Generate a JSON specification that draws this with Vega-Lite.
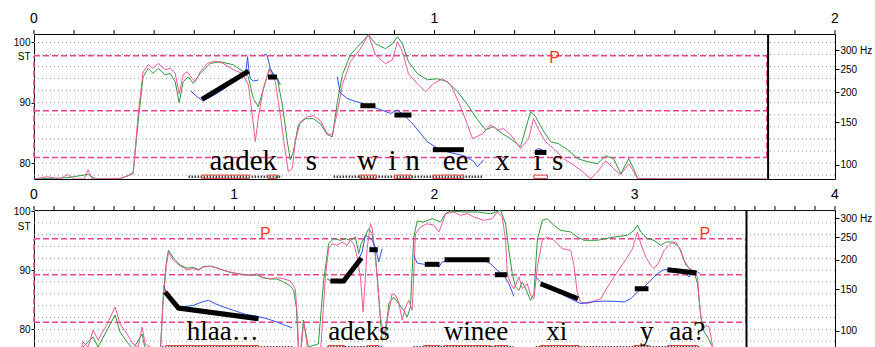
{
"$schema": "https://vega.github.io/schema/vega-lite/v6.json",
"padding": {"left": 12, "top": 11, "right": 0, "bottom": 0},
"spacing": 31,
"bounds": "flush",
"config": {
  "view": {"stroke": "#000", "strokeWidth": 1},
  "axis": {"labelFont": "Liberation Sans", "domain": false, "grid": false, "tickColor": "#000", "labelColor": "#000", "title": null}
},
"datasets": {
  "one": [{"k": 1}],
  "tickTop": [{"t":0},{"t":0.1},{"t":0.2},{"t":0.3},{"t":0.4},{"t":0.5},{"t":0.6},{"t":0.7},{"t":0.8},{"t":0.9},{"t":1},{"t":1.1},{"t":1.2},{"t":1.3},{"t":1.4},{"t":1.5},{"t":1.6},{"t":1.7},{"t":1.8},{"t":1.9},{"t":2}],
  "tickBot": [{"t":0},{"t":0.1},{"t":0.2},{"t":0.3},{"t":0.4},{"t":0.5},{"t":0.6},{"t":0.7},{"t":0.8},{"t":0.9},{"t":1},{"t":1.1},{"t":1.2},{"t":1.3},{"t":1.4},{"t":1.5},{"t":1.6},{"t":1.7},{"t":1.8},{"t":1.9},{"t":2},{"t":2.1},{"t":2.2},{"t":2.3},{"t":2.4},{"t":2.5},{"t":2.6},{"t":2.7},{"t":2.8},{"t":2.9},{"t":3},{"t":3.1},{"t":3.2},{"t":3.3},{"t":3.4},{"t":3.5},{"t":3.6},{"t":3.7},{"t":3.8},{"t":3.9},{"t":4}],
  "labTop": [{"t":0,"l":"0"},{"t":1,"l":"1"},{"t":2,"l":"2"}],
  "labBot": [{"t":0,"l":"0"},{"t":1,"l":"1"},{"t":2,"l":"2"},{"t":3,"l":"3"},{"t":4,"l":"4"}],
  "gridTop": [{"v":78},{"v":80},{"v":82},{"v":84},{"v":86},{"v":88},{"v":90},{"v":92},{"v":94},{"v":96},{"v":98},{"v":100}],
  "gridBot": [{"v":76},{"v":78},{"v":80},{"v":82},{"v":84},{"v":86},{"v":88},{"v":90},{"v":92},{"v":94},{"v":96},{"v":98},{"v":100}],
  "dashTop": [{"v":97.79},{"v":88.67},{"v":80.93}],
  "dashBot": [{"v":95.32},{"v":89.23},{"v":81.18}],
  "dashVTop": [{"t":0,"y1":80.93,"y2":97.79},{"t":1.83,"y1":80.93,"y2":97.79}],
  "dashVBot": [{"t":0,"y1":81.18,"y2":95.32},{"t":3.555,"y1":81.18,"y2":95.32}],
  "rectTop": [{"a":0.419,"b":0.538},{"a":0.584,"b":0.608},{"a":0.813,"b":0.855},{"a":0.9,"b":0.943},{"a":0.996,"b":1.073},{"a":1.248,"b":1.282}],
  "zigTop": [{"a":0.386,"b":0.619},{"a":0.748,"b":1.119}],
  "rectBot": [{"a":0.6585,"b":1.1215},{"a":1.47,"b":1.55},{"a":1.6635,"b":1.7215},{"a":1.9465,"b":2.0265},{"a":2.0465,"b":2.28},{"a":2.3,"b":2.3665},{"a":2.53,"b":2.7215},{"a":2.9965,"b":3.0715},{"a":3.1635,"b":3.3135}],
  "zigBot": [{"a":0.6385,"b":1.2965},{"a":1.4635,"b":1.7385},{"a":1.895,"b":2.395},{"a":2.505,"b":3.33}],
  "sylTop": [{"t":0.5225,"w":"aadek"},{"t":0.6925,"w":"s"},{"t":0.8325,"w":"w"},{"t":0.895,"w":"i"},{"t":0.945,"w":"n"},{"t":1.0525,"w":"ee"},{"t":1.17,"w":"x"},{"t":1.2575,"w":"i"},{"t":1.3075,"w":"s"}],
  "sylBot": [{"t":0.9425,"w":"hlaa…"},{"t":1.6225,"w":"adeks"},{"t":2.2075,"w":"winee"},{"t":2.61,"w":"xi"},{"t":3.06,"w":"y"},{"t":3.2625,"w":"aa?"}],
  "pTop": [{"t":1.3,"v":96.52}],
  "pBot": [{"t":1.155,"v":95.32},{"t":3.35,"v":95.32}],
  "pinkTop": [{"t":0,"st":77.35},{"t":0.033,"st":77.73},{"t":0.065,"st":77.35},{"t":0.083,"st":78.11},{"t":0.1,"st":77.35},{"t":0.125,"st":77.35},{"t":0.135,"st":78.89},{"t":0.145,"st":77.35},{"t":0.215,"st":77.45},{"t":0.235,"st":77.9},{"t":0.248,"st":78.56},{"t":0.26,"st":88.01},{"t":0.2725,"st":95.14},{"t":0.285,"st":96.3},{"t":0.2975,"st":95.69},{"t":0.31,"st":96.52},{"t":0.3275,"st":95.47},{"t":0.34,"st":95.69},{"t":0.3525,"st":94.86},{"t":0.3625,"st":91.49},{"t":0.3725,"st":94.64},{"t":0.3825,"st":95.14},{"t":0.395,"st":94.03},{"t":0.4025,"st":93.48},{"t":0.415,"st":95.14},{"t":0.4325,"st":96.52},{"t":0.4525,"st":96.92},{"t":0.4725,"st":96.52},{"t":0.4975,"st":95.47},{"t":0.52,"st":94.86},{"t":0.535,"st":92.99},{"t":0.545,"st":88.01},{"t":0.5525,"st":83.53},{"t":0.56,"st":87.4},{"t":0.5725,"st":92.37},{"t":0.5875,"st":95.47},{"t":0.6025,"st":93.48},{"t":0.615,"st":88.01},{"t":0.6275,"st":81.87},{"t":0.635,"st":78.56},{"t":0.645,"st":79.1},{"t":0.6525,"st":83.53},{"t":0.665,"st":86.85},{"t":0.6825,"st":87.68},{"t":0.6975,"st":87.84},{"t":0.715,"st":87.02},{"t":0.7325,"st":84.86},{"t":0.745,"st":84.69},{"t":0.7575,"st":88.51},{"t":0.77,"st":92.99},{"t":0.79,"st":96.8},{"t":0.815,"st":98.96},{"t":0.835,"st":101.28},{"t":0.8525,"st":97.96},{"t":0.8775,"st":96.47},{"t":0.895,"st":97.13},{"t":0.9075,"st":100.12},{"t":0.92,"st":98.46},{"t":0.935,"st":94.81},{"t":0.9575,"st":93.15},{"t":0.9775,"st":91.82},{"t":0.9975,"st":93.15},{"t":1.02,"st":93.98},{"t":1.04,"st":92.99},{"t":1.06,"st":90.17},{"t":1.0825,"st":86.35},{"t":1.095,"st":84.03},{"t":1.12,"st":84.86},{"t":1.14,"st":86.35},{"t":1.1575,"st":85.52},{"t":1.1725,"st":85.69},{"t":1.19,"st":84.69},{"t":1.215,"st":82.37},{"t":1.235,"st":84.03},{"t":1.2475,"st":87.35},{"t":1.26,"st":85.52},{"t":1.2775,"st":83.53},{"t":1.2975,"st":82.37},{"t":1.3225,"st":80.71},{"t":1.3475,"st":79.67},{"t":1.37,"st":78.56},{"t":1.39,"st":77.4},{"t":1.4075,"st":78.56},{"t":1.4275,"st":80.38},{"t":1.4475,"st":79.05},{"t":1.465,"st":78.06},{"t":1.485,"st":79.88},{"t":1.4975,"st":78.56},{"t":1.5075,"st":77.4},{"t":1.8275,"st":77.35}],
  "greenTop": [{"t":0,"st":77.35},{"t":0.083,"st":77.56},{"t":0.135,"st":78.11},{"t":0.155,"st":77.35},{"t":0.215,"st":77.4},{"t":0.2475,"st":78.23},{"t":0.26,"st":86.85},{"t":0.2725,"st":94.31},{"t":0.285,"st":95.69},{"t":0.2975,"st":94.86},{"t":0.31,"st":95.69},{"t":0.3275,"st":94.64},{"t":0.34,"st":94.86},{"t":0.3525,"st":93.48},{"t":0.3625,"st":90.0},{"t":0.3725,"st":93.48},{"t":0.385,"st":94.31},{"t":0.3975,"st":93.2},{"t":0.415,"st":94.86},{"t":0.44,"st":96.52},{"t":0.465,"st":96.8},{"t":0.4975,"st":96.3},{"t":0.5225,"st":95.14},{"t":0.535,"st":94.31},{"t":0.5475,"st":90.71},{"t":0.56,"st":89.34},{"t":0.5725,"st":92.16},{"t":0.5875,"st":95.69},{"t":0.6075,"st":94.03},{"t":0.62,"st":89.67},{"t":0.6325,"st":83.53},{"t":0.64,"st":80.55},{"t":0.6475,"st":81.87},{"t":0.66,"st":86.35},{"t":0.6775,"st":87.35},{"t":0.6975,"st":87.35},{"t":0.715,"st":86.52},{"t":0.7325,"st":84.69},{"t":0.745,"st":84.36},{"t":0.7575,"st":90.17},{"t":0.77,"st":94.64},{"t":0.79,"st":97.96},{"t":0.815,"st":99.78},{"t":0.835,"st":101.28},{"t":0.8525,"st":99.78},{"t":0.8775,"st":98.96},{"t":0.895,"st":99.78},{"t":0.9075,"st":100.95},{"t":0.92,"st":99.78},{"t":0.935,"st":96.8},{"t":0.9575,"st":94.81},{"t":0.9825,"st":93.81},{"t":1.0075,"st":93.98},{"t":1.0325,"st":93.48},{"t":1.0575,"st":91.82},{"t":1.0825,"st":89.67},{"t":1.1075,"st":87.18},{"t":1.1275,"st":85.52},{"t":1.1475,"st":86.02},{"t":1.17,"st":84.86},{"t":1.19,"st":84.03},{"t":1.215,"st":82.7},{"t":1.2275,"st":85.69},{"t":1.24,"st":88.51},{"t":1.2525,"st":87.68},{"t":1.27,"st":85.52},{"t":1.29,"st":83.53},{"t":1.31,"st":83.2},{"t":1.3325,"st":82.2},{"t":1.3575,"st":80.71},{"t":1.3825,"st":80.22},{"t":1.4075,"st":79.88},{"t":1.4275,"st":81.21},{"t":1.4475,"st":80.71},{"t":1.465,"st":78.23},{"t":1.485,"st":80.71},{"t":1.4975,"st":79.05},{"t":1.5075,"st":77.4},{"t":1.8275,"st":77.35}],
  "blueTop": [{"s":1,"t":0.3918,"st":91.94},{"s":1,"t":0.4068,"st":91.0},{"s":1,"t":0.4193,"st":90.45},{"s":1,"t":0.435,"st":90.71},{"s":1,"t":0.4568,"st":91.54},{"s":1,"t":0.4818,"st":92.65},{"s":1,"t":0.5068,"st":93.76},{"s":1,"t":0.5225,"st":94.64},{"s":1,"t":0.53,"st":95.69},{"s":1,"t":0.5333,"st":97.63},{"s":1,"t":0.5358,"st":95.69},{"s":1,"t":0.54,"st":94.03},{"s":1,"t":0.5475,"st":93.6},{"s":1,"t":0.56,"st":93.76},
    {"s":2,"t":0.575,"st":98.01},{"s":2,"t":0.5818,"st":97.91},{"s":2,"t":0.59,"st":95.69},{"s":2,"t":0.5975,"st":94.59},{"s":2,"t":0.6075,"st":94.03},{"s":2,"t":0.615,"st":92.94},
    {"s":3,"t":0.7568,"st":94.31},{"s":3,"t":0.765,"st":91.66},{"s":3,"t":0.7818,"st":90.71},{"s":3,"t":0.7975,"st":90.33},{"s":3,"t":0.815,"st":90.0},{"s":3,"t":0.8568,"st":89.05},{"s":3,"t":0.89,"st":88.23},{"s":3,"t":0.9068,"st":88.79},{"s":3,"t":0.9233,"st":87.96},{"s":3,"t":0.9483,"st":86.3},{"s":3,"t":0.9818,"st":83.53},{"s":3,"t":1.015,"st":82.16},{"s":3,"t":1.0483,"st":81.59},{"s":3,"t":1.0733,"st":81.21},{"s":3,"t":1.0858,"st":80.76},{"s":3,"t":1.0983,"st":80.22},{"s":3,"t":1.1068,"st":79.39},{"s":3,"t":1.115,"st":79.93},{"s":3,"t":1.1218,"st":80.5},
    {"s":4,"t":1.2483,"st":81.59},{"s":4,"t":1.2583,"st":82.42},{"s":4,"t":1.2693,"st":82.16},{"s":4,"t":1.2775,"st":81.59}],
  "blackTop": [{"s":1,"t":0.4193,"st":90.55},{"s":1,"t":0.5358,"st":95.26},{"s":2,"t":0.5843,"st":94.26},{"s":2,"t":0.6068,"st":94.26},{"s":3,"t":0.815,"st":89.5},{"s":3,"t":0.8525,"st":89.5},{"s":4,"t":0.9,"st":87.96},{"s":4,"t":0.9425,"st":87.96},{"s":5,"t":0.9958,"st":82.21},{"s":5,"t":1.0733,"st":82.21},{"s":6,"t":1.2508,"st":81.76},{"s":6,"t":1.2793,"st":81.76}],
  "pinkBot": [{"t":0,"st":75.7},{"t":0.13,"st":75.7},{"t":0.165,"st":77.01},{"t":0.19,"st":75.7},{"t":0.23,"st":75.7},{"t":0.245,"st":77.85},{"t":0.27,"st":77.01},{"t":0.295,"st":79.88},{"t":0.32,"st":78.19},{"t":0.365,"st":80.9},{"t":0.405,"st":83.77},{"t":0.43,"st":80.9},{"t":0.465,"st":79.21},{"t":0.495,"st":77.52},{"t":0.52,"st":77.01},{"t":0.54,"st":80.39},{"t":0.555,"st":77.52},{"t":0.595,"st":76.67},{"t":0.63,"st":75.7},{"t":0.645,"st":84.62},{"t":0.66,"st":90.53},{"t":0.6715,"st":93.07},{"t":0.6965,"st":91.67},{"t":0.73,"st":90.7},{"t":0.7635,"st":90.08},{"t":0.7965,"st":90.25},{"t":0.8215,"st":89.97},{"t":0.8465,"st":90.53},{"t":0.88,"st":90.65},{"t":0.9135,"st":90.41},{"t":0.9465,"st":89.97},{"t":0.98,"st":89.69},{"t":1.03,"st":89.3},{"t":1.08,"st":89.13},{"t":1.1135,"st":89.4},{"t":1.1465,"st":88.72},{"t":1.18,"st":88.55},{"t":1.2135,"st":88.72},{"t":1.2465,"st":88.55},{"t":1.28,"st":88.17},{"t":1.305,"st":86.81},{"t":1.3135,"st":82.92},{"t":1.3215,"st":77.01},{"t":1.33,"st":75.7},{"t":1.3475,"st":81.23},{"t":1.365,"st":77.01},{"t":1.38,"st":75.7},{"t":1.43,"st":75.7},{"t":1.455,"st":88.84},{"t":1.4715,"st":93.63},{"t":1.4885,"st":94.47},{"t":1.5135,"st":94.2},{"t":1.5385,"st":94.76},{"t":1.5635,"st":94.2},{"t":1.58,"st":95.05},{"t":1.5965,"st":94.47},{"t":1.6135,"st":92.22},{"t":1.63,"st":88.84},{"t":1.6435,"st":82.92},{"t":1.655,"st":88.84},{"t":1.6635,"st":93.63},{"t":1.68,"st":97.85},{"t":1.6885,"st":97.13},{"t":1.7,"st":93.91},{"t":1.7135,"st":88.84},{"t":1.73,"st":82.08},{"t":1.7465,"st":79.04},{"t":1.7665,"st":82.08},{"t":1.7885,"st":86.02},{"t":1.805,"st":85.75},{"t":1.8215,"st":84.62},{"t":1.8385,"st":81.57},{"t":1.855,"st":83.77},{"t":1.8715,"st":84.9},{"t":1.8885,"st":83.21},{"t":1.905,"st":96.16},{"t":1.93,"st":97.3},{"t":1.9635,"st":97.85},{"t":1.9965,"st":97.58},{"t":2.0215,"st":96.45},{"t":2.0385,"st":97.85},{"t":2.055,"st":99.54},{"t":2.0965,"st":99.83},{"t":2.13,"st":99.27},{"t":2.1635,"st":99.54},{"t":2.1965,"st":98.99},{"t":2.2465,"st":98.43},{"t":2.2885,"st":98.7},{"t":2.3135,"st":99.83},{"t":2.3385,"st":98.99},{"t":2.355,"st":95.05},{"t":2.3635,"st":89.4},{"t":2.38,"st":87.71},{"t":2.3965,"st":86.86},{"t":2.4215,"st":88.84},{"t":2.4385,"st":86.86},{"t":2.4635,"st":87.71},{"t":2.48,"st":85.75},{"t":2.4965,"st":85.17},{"t":2.5135,"st":90.53},{"t":2.5385,"st":95.05},{"t":2.5635,"st":95.6},{"t":2.5965,"st":95.05},{"t":2.6385,"st":93.63},{"t":2.68,"st":93.36},{"t":2.6965,"st":90.82},{"t":2.7135,"st":86.02},{"t":2.73,"st":84.62},{"t":2.7635,"st":84.33},{"t":2.805,"st":84.9},{"t":2.83,"st":85.12},{"t":2.8635,"st":87.15},{"t":2.8965,"st":88.84},{"t":2.93,"st":90.53},{"t":2.9635,"st":92.22},{"t":2.9885,"st":93.63},{"t":3.0135,"st":96.45},{"t":3.03,"st":94.47},{"t":3.055,"st":92.22},{"t":3.08,"st":90.82},{"t":3.0965,"st":90.25},{"t":3.1215,"st":91.38},{"t":3.1465,"st":93.36},{"t":3.18,"st":94.47},{"t":3.205,"st":94.76},{"t":3.23,"st":93.36},{"t":3.255,"st":90.82},{"t":3.2885,"st":89.97},{"t":3.3135,"st":88.84},{"t":3.3215,"st":84.9},{"t":3.3385,"st":79.83},{"t":3.355,"st":80.68},{"t":3.3715,"st":80.39},{"t":3.3965,"st":75.7},{"t":3.555,"st":75.7}],
  "greenBot": [{"t":0,"st":75.7},{"t":0.2,"st":75.7},{"t":0.245,"st":77.01},{"t":0.295,"st":78.7},{"t":0.32,"st":77.01},{"t":0.365,"st":79.88},{"t":0.405,"st":82.42},{"t":0.43,"st":79.54},{"t":0.465,"st":77.85},{"t":0.495,"st":76.67},{"t":0.54,"st":79.21},{"t":0.555,"st":76.67},{"t":0.63,"st":75.7},{"t":0.645,"st":85.46},{"t":0.66,"st":91.04},{"t":0.6715,"st":93.36},{"t":0.6965,"st":92.05},{"t":0.73,"st":90.87},{"t":0.7635,"st":90.36},{"t":0.7965,"st":90.45},{"t":0.8215,"st":90.11},{"t":0.8465,"st":90.62},{"t":0.88,"st":90.7},{"t":0.9135,"st":90.36},{"t":0.9465,"st":89.97},{"t":0.98,"st":89.6},{"t":1.03,"st":89.35},{"t":1.08,"st":89.18},{"t":1.1135,"st":89.18},{"t":1.1465,"st":88.67},{"t":1.18,"st":88.5},{"t":1.2135,"st":88.5},{"t":1.2465,"st":88.0},{"t":1.28,"st":87.32},{"t":1.2965,"st":86.59},{"t":1.31,"st":83.77},{"t":1.32,"st":77.01},{"t":1.33,"st":75.7},{"t":1.345,"st":81.57},{"t":1.37,"st":77.01},{"t":1.42,"st":77.52},{"t":1.4465,"st":88.28},{"t":1.4715,"st":94.47},{"t":1.4965,"st":95.32},{"t":1.53,"st":95.05},{"t":1.555,"st":95.32},{"t":1.58,"st":95.05},{"t":1.605,"st":95.6},{"t":1.6215,"st":92.78},{"t":1.6335,"st":94.47},{"t":1.655,"st":95.89},{"t":1.6715,"st":97.01},{"t":1.6885,"st":96.16},{"t":1.705,"st":92.78},{"t":1.7215,"st":85.46},{"t":1.7385,"st":78.14},{"t":1.755,"st":78.7},{"t":1.7715,"st":84.33},{"t":1.7965,"st":85.46},{"t":1.8215,"st":84.33},{"t":1.8465,"st":83.21},{"t":1.8635,"st":82.08},{"t":1.88,"st":83.77},{"t":1.8965,"st":95.6},{"t":1.9135,"st":98.31},{"t":1.9465,"st":98.14},{"t":1.9885,"st":98.7},{"t":2.03,"st":98.14},{"t":2.055,"st":99.54},{"t":2.08,"st":100.0},{"t":2.1465,"st":99.83},{"t":2.2135,"st":99.83},{"t":2.28,"st":99.54},{"t":2.305,"st":99.83},{"t":2.33,"st":100.12},{"t":2.355,"st":97.85},{"t":2.3715,"st":93.36},{"t":2.3885,"st":89.4},{"t":2.405,"st":87.15},{"t":2.4215,"st":86.59},{"t":2.4385,"st":88.0},{"t":2.455,"st":86.86},{"t":2.48,"st":84.9},{"t":2.4965,"st":86.02},{"t":2.5135,"st":95.05},{"t":2.5385,"st":98.43},{"t":2.5635,"st":98.7},{"t":2.5965,"st":97.58},{"t":2.63,"st":96.74},{"t":2.68,"st":96.45},{"t":2.7135,"st":95.6},{"t":2.7465,"st":95.05},{"t":2.8135,"st":95.05},{"t":2.8965,"st":95.6},{"t":2.9635,"st":95.89},{"t":2.9965,"st":96.74},{"t":3.0135,"st":97.58},{"t":3.03,"st":96.45},{"t":3.0635,"st":95.32},{"t":3.0965,"st":95.05},{"t":3.13,"st":94.2},{"t":3.155,"st":94.76},{"t":3.1885,"st":94.76},{"t":3.2215,"st":93.91},{"t":3.2465,"st":91.67},{"t":3.2715,"st":90.25},{"t":3.2965,"st":89.69},{"t":3.3135,"st":87.71},{"t":3.33,"st":82.08},{"t":3.3465,"st":79.54},{"t":3.3635,"st":78.7},{"t":3.3885,"st":77.01},{"t":3.4,"st":75.7},{"t":3.555,"st":75.7}],
  "blueBot": [{"s":1,"t":0.6465,"st":87.44},{"s":1,"t":0.6635,"st":86.02},{"s":1,"t":0.6965,"st":84.62},{"s":1,"t":0.73,"st":83.77},{"s":1,"t":0.7635,"st":83.89},{"s":1,"t":0.7965,"st":84.06},{"s":1,"t":0.8385,"st":84.62},{"s":1,"t":0.8715,"st":84.9},{"s":1,"t":0.905,"st":84.33},{"s":1,"t":0.9465,"st":83.77},{"s":1,"t":0.9965,"st":83.21},{"s":1,"t":1.055,"st":82.54},{"s":1,"t":1.1135,"st":82.2},{"s":1,"t":1.1635,"st":81.79},{"s":1,"t":1.2135,"st":81.23},{"s":1,"t":1.255,"st":80.68},{"s":1,"t":1.2885,"st":80.27},
    {"s":2,"t":1.4635,"st":88.55},{"s":2,"t":1.4885,"st":88.0},{"s":2,"t":1.53,"st":87.83},{"s":2,"t":1.5635,"st":88.84},{"s":2,"t":1.5965,"st":90.53},{"s":2,"t":1.6265,"st":92.22},{"s":2,"t":1.6385,"st":93.07},{"s":2,"t":1.655,"st":95.89},{"s":2,"t":1.6715,"st":95.6},{"s":2,"t":1.6885,"st":95.05},{"s":2,"t":1.705,"st":93.91},{"s":2,"t":1.7215,"st":91.38},{"s":2,"t":1.7385,"st":93.63},
    {"s":3,"t":1.8965,"st":92.51},{"s":3,"t":1.9135,"st":91.21},{"s":3,"t":1.9465,"st":90.99},{"s":3,"t":1.9965,"st":91.09},{"s":3,"t":2.0215,"st":90.53},{"s":3,"t":2.0385,"st":91.38},{"s":3,"t":2.08,"st":91.77},{"s":3,"t":2.1465,"st":91.77},{"s":3,"t":2.1965,"st":91.94},{"s":3,"t":2.2465,"st":91.67},{"s":3,"t":2.28,"st":91.09},{"s":3,"t":2.3135,"st":89.97},{"s":3,"t":2.3465,"st":89.13},{"s":3,"t":2.3715,"st":87.71},{"s":3,"t":2.3965,"st":85.58},
    {"s":4,"t":2.505,"st":88.84},{"s":4,"t":2.53,"st":88.0},{"s":4,"t":2.58,"st":86.86},{"s":4,"t":2.63,"st":86.02},{"s":4,"t":2.68,"st":85.17},{"s":4,"t":2.73,"st":84.33},{"s":4,"t":2.78,"st":84.62},{"s":4,"t":2.8465,"st":84.78},{"s":4,"t":2.8965,"st":84.73},{"s":4,"t":2.9465,"st":84.62},{"s":4,"t":2.98,"st":85.17},{"s":4,"t":3.0135,"st":86.31},{"s":4,"t":3.0465,"st":87.15},{"s":4,"t":3.08,"st":88.28},{"s":4,"t":3.1135,"st":89.4},{"s":4,"t":3.1385,"st":89.97},{"s":4,"t":3.18,"st":90.25},{"s":4,"t":3.23,"st":89.97},{"s":4,"t":3.255,"st":89.4},{"s":4,"t":3.2715,"st":88.84},{"s":4,"t":3.2885,"st":89.97},{"s":4,"t":3.3135,"st":89.69},{"s":4,"t":3.3265,"st":89.4}],
  "blackBot": [{"s":1,"t":0.655,"st":86.31},{"s":1,"t":0.7215,"st":83.6},{"s":1,"t":1.1215,"st":81.79},{"s":2,"t":1.48,"st":88.17},{"s":2,"t":1.5465,"st":88.17},{"s":2,"t":1.635,"st":92.05},{"s":3,"t":1.675,"st":93.46},{"s":3,"t":1.7165,"st":93.46},{"s":4,"t":1.9515,"st":90.99},{"s":4,"t":2.025,"st":90.99},{"s":5,"t":2.05,"st":91.77},{"s":5,"t":2.275,"st":91.77},{"s":6,"t":2.3015,"st":89.23},{"s":6,"t":2.3635,"st":89.23},{"s":7,"t":2.53,"st":87.71},{"s":7,"t":2.7165,"st":85.17},{"s":8,"t":3.0,"st":86.86},{"s":8,"t":3.0685,"st":86.86},{"s":9,"t":3.1635,"st":90.08},{"s":9,"t":3.3085,"st":89.52}]
},
"vconcat": [
{
  "width": 801, "height": 145,
  "resolve": {"axis": {"y": "independent"}},
  "layer": [
    {"data": {"name": "gridTop"}, "mark": {"type": "rule", "color": "#9a9a9a", "strokeDash": [1, 3], "strokeWidth": 1},
     "encoding": {"y": {"field": "v", "type": "quantitative", "scale": {"domain": [77.35, 101.4], "nice": false, "zero": false},
       "axis": {"orient": "left", "values": [80, 90, 97.6, 100], "labelExpr": "datum.value > 97 && datum.value < 98 ? 'ST' : datum.value", "tickSize": 3, "labelPadding": 1, "labelFontSize": 10, "labelOverlap": false, "tickOpacity": {"condition": {"test": "datum.value > 97 && datum.value < 98", "value": 0}, "value": 1}}}}},
    {"data": {"name": "dashTop"}, "mark": {"type": "rule", "color": "#f0428f", "strokeDash": [6, 3], "strokeWidth": 1.5},
     "encoding": {"x": {"datum": 0, "type": "quantitative", "scale": {"domain": [0, 2], "nice": false, "zero": false}, "axis": null},
       "x2": {"datum": 1.83},
       "y": {"field": "v", "type": "quantitative", "scale": {"domain": [77.35, 101.4], "nice": false, "zero": false},
       "axis": {"orient": "right", "values": [79.7263, 86.7459, 91.7263, 95.5894, 98.7459], "labelExpr": "format(pow(2, datum.value/12), '.0f') + (datum.value > 98 ? ' Hz' : '')", "tickSize": 4, "labelPadding": 1, "labelFontSize": 10, "labelOverlap": false}}}},
    {"data": {"name": "tickTop"}, "mark": {"type": "rule", "color": "#000", "strokeWidth": 1},
     "encoding": {"x": {"field": "t", "type": "quantitative", "scale": {"domain": [0, 2], "nice": false, "zero": false}, "axis": null},
       "y": {"datum": 101.4, "type": "quantitative", "scale": {"domain": [77.35, 101.4], "nice": false, "zero": false}, "axis": null}, "y2": {"datum": 102.06}}},
    {"data": {"name": "labTop"}, "mark": {"type": "text", "font": "Liberation Sans", "fontSize": 14, "align": "center", "baseline": "alphabetic", "color": "#000"},
     "encoding": {"x": {"field": "t", "type": "quantitative", "scale": {"domain": [0, 2], "nice": false, "zero": false}, "axis": null},
       "y": {"datum": 103.16, "type": "quantitative", "scale": {"domain": [77.35, 101.4], "nice": false, "zero": false}, "axis": null},
       "text": {"field": "l", "type": "nominal"}}},
    {"data": {"name": "dashVTop"}, "mark": {"type": "rule", "color": "#f0428f", "strokeDash": [6, 3], "strokeWidth": 1.5},
     "encoding": {"x": {"field": "t", "type": "quantitative", "scale": {"domain": [0, 2], "nice": false, "zero": false}, "axis": null},
       "y": {"field": "y1", "type": "quantitative", "scale": {"domain": [77.35, 101.4], "nice": false, "zero": false}, "axis": null}, "y2": {"field": "y2"}}},
    {"data": {"name": "zigTop"}, "mark": {"type": "rule", "color": "#444", "strokeDash": [1.5, 1.5], "strokeWidth": 2.5},
     "encoding": {"x": {"field": "a", "type": "quantitative", "scale": {"domain": [0, 2], "nice": false, "zero": false}, "axis": null}, "x2": {"field": "b"},
       "y": {"datum": 77.72, "type": "quantitative", "scale": {"domain": [77.35, 101.4], "nice": false, "zero": false}, "axis": null}}},
    {"data": {"name": "rectTop"}, "mark": {"type": "rect", "filled": false, "stroke": "#e03a3a", "strokeWidth": 1},
     "encoding": {"x": {"field": "a", "type": "quantitative", "scale": {"domain": [0, 2], "nice": false, "zero": false}, "axis": null}, "x2": {"field": "b"},
       "y": {"datum": 77.45, "type": "quantitative", "scale": {"domain": [77.35, 101.4], "nice": false, "zero": false}, "axis": null}, "y2": {"datum": 78.0}}},
    {"data": {"name": "greenTop"}, "mark": {"type": "line", "color": "#2e9a3c", "strokeWidth": 1, "clip": true},
     "encoding": {"x": {"field": "t", "type": "quantitative", "scale": {"domain": [0, 2], "nice": false, "zero": false}, "axis": null},
       "y": {"field": "st", "type": "quantitative", "scale": {"domain": [77.35, 101.4], "nice": false, "zero": false}, "axis": null}}},
    {"data": {"name": "pinkTop"}, "mark": {"type": "line", "color": "#f3589c", "strokeWidth": 1, "clip": true},
     "encoding": {"x": {"field": "t", "type": "quantitative", "scale": {"domain": [0, 2], "nice": false, "zero": false}, "axis": null},
       "y": {"field": "st", "type": "quantitative", "scale": {"domain": [77.35, 101.4], "nice": false, "zero": false}, "axis": null}}},
    {"data": {"name": "blueTop"}, "mark": {"type": "line", "color": "#3050f0", "strokeWidth": 1, "clip": true},
     "encoding": {"x": {"field": "t", "type": "quantitative", "scale": {"domain": [0, 2], "nice": false, "zero": false}, "axis": null},
       "y": {"field": "st", "type": "quantitative", "scale": {"domain": [77.35, 101.4], "nice": false, "zero": false}, "axis": null},
       "detail": {"field": "s", "type": "nominal"}}},
    {"data": {"name": "blackTop"}, "mark": {"type": "line", "color": "#000", "strokeWidth": 5, "strokeCap": "butt", "clip": true},
     "encoding": {"x": {"field": "t", "type": "quantitative", "scale": {"domain": [0, 2], "nice": false, "zero": false}, "axis": null},
       "y": {"field": "st", "type": "quantitative", "scale": {"domain": [77.35, 101.4], "nice": false, "zero": false}, "axis": null},
       "detail": {"field": "s", "type": "nominal"}}},
    {"data": {"name": "sylTop"}, "mark": {"type": "text", "font": "Liberation Serif", "fontSize": 29, "align": "center", "baseline": "alphabetic", "color": "#000"},
     "encoding": {"x": {"field": "t", "type": "quantitative", "scale": {"domain": [0, 2], "nice": false, "zero": false}, "axis": null},
       "y": {"datum": 78.84, "type": "quantitative", "scale": {"domain": [77.35, 101.4], "nice": false, "zero": false}, "axis": null},
       "text": {"field": "w", "type": "nominal"}}},
    {"data": {"name": "pTop"}, "mark": {"type": "text", "font": "Liberation Sans", "fontSize": 16, "align": "center", "baseline": "alphabetic", "color": "#ff3b1f"},
     "encoding": {"x": {"field": "t", "type": "quantitative", "scale": {"domain": [0, 2], "nice": false, "zero": false}, "axis": null},
       "y": {"field": "v", "type": "quantitative", "scale": {"domain": [77.35, 101.4], "nice": false, "zero": false}, "axis": null},
       "text": {"value": "P"}}},
    {"data": {"name": "one"}, "mark": {"type": "rule", "color": "#000", "strokeWidth": 2},
     "encoding": {"x": {"datum": 1.833, "type": "quantitative", "scale": {"domain": [0, 2], "nice": false, "zero": false}, "axis": null}}}
  ]
},
{
  "width": 801, "height": 145,
  "resolve": {"axis": {"y": "independent"}},
  "layer": [
    {"data": {"name": "gridBot"}, "mark": {"type": "rule", "color": "#9a9a9a", "strokeDash": [1, 3], "strokeWidth": 1},
     "encoding": {"y": {"field": "v", "type": "quantitative", "scale": {"domain": [75.66, 100.17], "nice": false, "zero": false},
       "axis": {"orient": "left", "values": [80, 90, 97.3, 100], "labelExpr": "datum.value > 97 && datum.value < 98 ? 'ST' : datum.value", "tickSize": 3, "labelPadding": 1, "labelFontSize": 10, "labelOverlap": false, "tickOpacity": {"condition": {"test": "datum.value > 97 && datum.value < 98", "value": 0}, "value": 1}}}}},
    {"data": {"name": "dashBot"}, "mark": {"type": "rule", "color": "#f0428f", "strokeDash": [6, 3], "strokeWidth": 1.5},
     "encoding": {"x": {"datum": 0, "type": "quantitative", "scale": {"domain": [0, 4], "nice": false, "zero": false}, "axis": null},
       "x2": {"datum": 3.555},
       "y": {"field": "v", "type": "quantitative", "scale": {"domain": [75.66, 100.17], "nice": false, "zero": false},
       "axis": {"orient": "right", "values": [79.7263, 86.7459, 91.7263, 95.5894, 98.7459], "labelExpr": "format(pow(2, datum.value/12), '.0f') + (datum.value > 98 ? ' Hz' : '')", "tickSize": 4, "labelPadding": 1, "labelFontSize": 10, "labelOverlap": false}}}},
    {"data": {"name": "tickBot"}, "mark": {"type": "rule", "color": "#000", "strokeWidth": 1},
     "encoding": {"x": {"field": "t", "type": "quantitative", "scale": {"domain": [0, 4], "nice": false, "zero": false}, "axis": null},
       "y": {"datum": 100.17, "type": "quantitative", "scale": {"domain": [75.66, 100.17], "nice": false, "zero": false}, "axis": null}, "y2": {"datum": 100.85}}},
    {"data": {"name": "labBot"}, "mark": {"type": "text", "font": "Liberation Sans", "fontSize": 14, "align": "center", "baseline": "alphabetic", "color": "#000"},
     "encoding": {"x": {"field": "t", "type": "quantitative", "scale": {"domain": [0, 4], "nice": false, "zero": false}, "axis": null},
       "y": {"datum": 102.08, "type": "quantitative", "scale": {"domain": [75.66, 100.17], "nice": false, "zero": false}, "axis": null},
       "text": {"field": "l", "type": "nominal"}}},
    {"data": {"name": "dashVBot"}, "mark": {"type": "rule", "color": "#f0428f", "strokeDash": [6, 3], "strokeWidth": 1.5},
     "encoding": {"x": {"field": "t", "type": "quantitative", "scale": {"domain": [0, 4], "nice": false, "zero": false}, "axis": null},
       "y": {"field": "y1", "type": "quantitative", "scale": {"domain": [75.66, 100.17], "nice": false, "zero": false}, "axis": null}, "y2": {"field": "y2"}}},
    {"data": {"name": "zigBot"}, "mark": {"type": "rule", "color": "#444", "strokeDash": [1.5, 1.5], "strokeWidth": 2.5},
     "encoding": {"x": {"field": "a", "type": "quantitative", "scale": {"domain": [0, 4], "nice": false, "zero": false}, "axis": null}, "x2": {"field": "b"},
       "y": {"datum": 76.97, "type": "quantitative", "scale": {"domain": [75.66, 100.17], "nice": false, "zero": false}, "axis": null}}},
    {"data": {"name": "rectBot"}, "mark": {"type": "rect", "filled": false, "stroke": "#e03a3a", "strokeWidth": 1},
     "encoding": {"x": {"field": "a", "type": "quantitative", "scale": {"domain": [0, 4], "nice": false, "zero": false}, "axis": null}, "x2": {"field": "b"},
       "y": {"datum": 76.67, "type": "quantitative", "scale": {"domain": [75.66, 100.17], "nice": false, "zero": false}, "axis": null}, "y2": {"datum": 77.26}}},
    {"data": {"name": "greenBot"}, "mark": {"type": "line", "color": "#2e9a3c", "strokeWidth": 1, "clip": true},
     "encoding": {"x": {"field": "t", "type": "quantitative", "scale": {"domain": [0, 4], "nice": false, "zero": false}, "axis": null},
       "y": {"field": "st", "type": "quantitative", "scale": {"domain": [75.66, 100.17], "nice": false, "zero": false}, "axis": null}}},
    {"data": {"name": "pinkBot"}, "mark": {"type": "line", "color": "#f3589c", "strokeWidth": 1, "clip": true},
     "encoding": {"x": {"field": "t", "type": "quantitative", "scale": {"domain": [0, 4], "nice": false, "zero": false}, "axis": null},
       "y": {"field": "st", "type": "quantitative", "scale": {"domain": [75.66, 100.17], "nice": false, "zero": false}, "axis": null}}},
    {"data": {"name": "blueBot"}, "mark": {"type": "line", "color": "#3050f0", "strokeWidth": 1, "clip": true},
     "encoding": {"x": {"field": "t", "type": "quantitative", "scale": {"domain": [0, 4], "nice": false, "zero": false}, "axis": null},
       "y": {"field": "st", "type": "quantitative", "scale": {"domain": [75.66, 100.17], "nice": false, "zero": false}, "axis": null},
       "detail": {"field": "s", "type": "nominal"}}},
    {"data": {"name": "blackBot"}, "mark": {"type": "line", "color": "#000", "strokeWidth": 5, "strokeCap": "butt", "clip": true},
     "encoding": {"x": {"field": "t", "type": "quantitative", "scale": {"domain": [0, 4], "nice": false, "zero": false}, "axis": null},
       "y": {"field": "st", "type": "quantitative", "scale": {"domain": [75.66, 100.17], "nice": false, "zero": false}, "axis": null},
       "detail": {"field": "s", "type": "nominal"}}},
    {"data": {"name": "sylBot"}, "mark": {"type": "text", "font": "Liberation Serif", "fontSize": 27, "align": "center", "baseline": "alphabetic", "color": "#000"},
     "encoding": {"x": {"field": "t", "type": "quantitative", "scale": {"domain": [0, 4], "nice": false, "zero": false}, "axis": null},
       "y": {"datum": 78.19, "type": "quantitative", "scale": {"domain": [75.66, 100.17], "nice": false, "zero": false}, "axis": null},
       "text": {"field": "w", "type": "nominal"}}},
    {"data": {"name": "pBot"}, "mark": {"type": "text", "font": "Liberation Sans", "fontSize": 16, "align": "center", "baseline": "alphabetic", "color": "#ff3b1f"},
     "encoding": {"x": {"field": "t", "type": "quantitative", "scale": {"domain": [0, 4], "nice": false, "zero": false}, "axis": null},
       "y": {"field": "v", "type": "quantitative", "scale": {"domain": [75.66, 100.17], "nice": false, "zero": false}, "axis": null},
       "text": {"value": "P"}}},
    {"data": {"name": "one"}, "mark": {"type": "rule", "color": "#000", "strokeWidth": 2},
     "encoding": {"x": {"datum": 3.558, "type": "quantitative", "scale": {"domain": [0, 4], "nice": false, "zero": false}, "axis": null}}}
  ]
}
]
}
